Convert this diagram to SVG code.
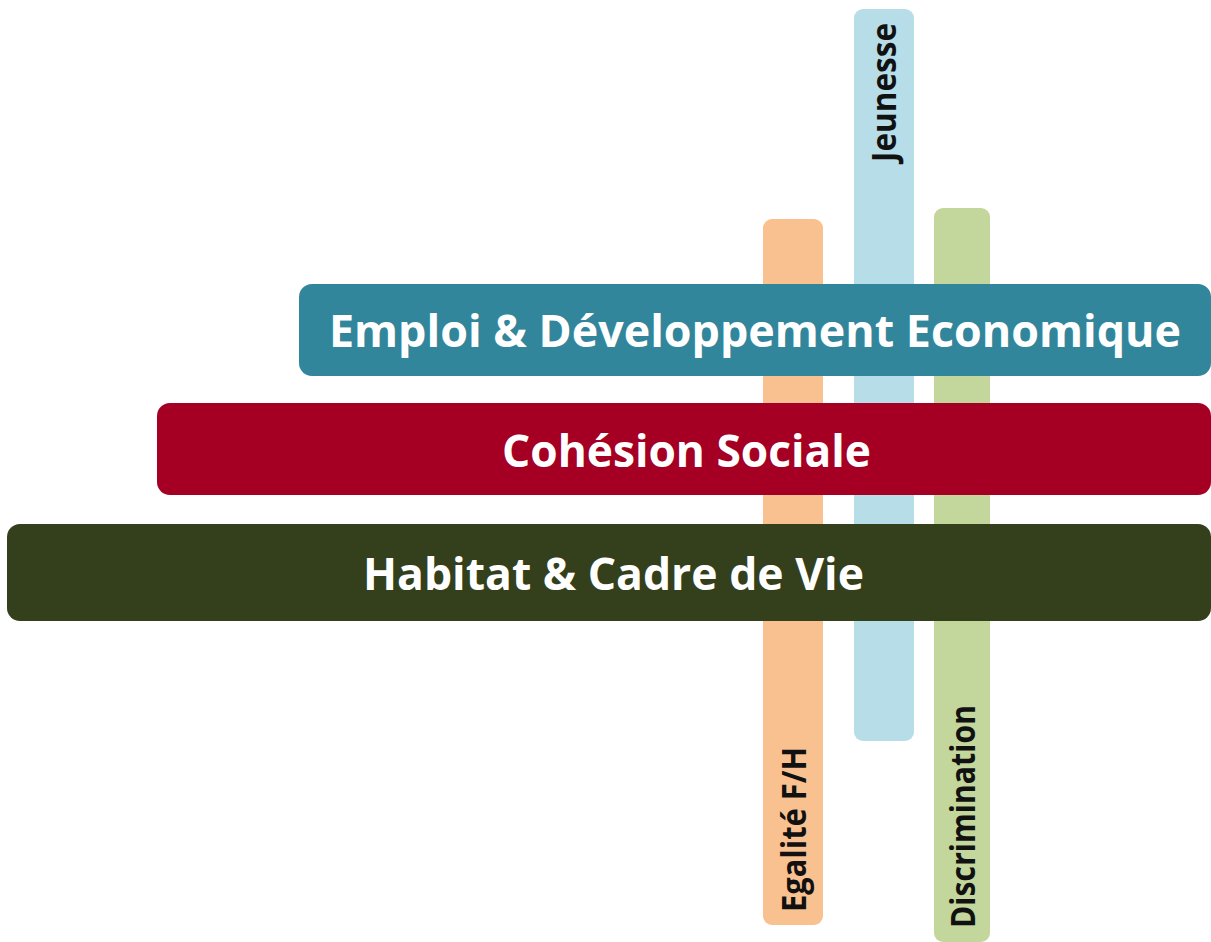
<svg xmlns="http://www.w3.org/2000/svg" width="1211" height="942" viewBox="0 0 1211 942">
<style>
.h{font-family:"Open Sans","DejaVu Sans",sans-serif;font-weight:700;font-size:45px;fill:#ffffff}
.v{font-family:"Open Sans","DejaVu Sans",sans-serif;font-weight:700;font-size:34px;fill:#111111}
</style>
<rect width="1211" height="942" fill="#ffffff"/>
<g id="egalite">
<rect x="763" y="219" width="60" height="706" rx="9" fill="#F9C090"/>
<text class="v" transform="translate(806,912) rotate(-90)" textLength="165" lengthAdjust="spacingAndGlyphs">Egalité F/H</text>
</g>
<g id="jeunesse">
<rect x="854" y="9" width="60" height="732" rx="9" fill="#B7DDE8"/>
<text class="v" transform="translate(896,162) rotate(-90)" textLength="139" lengthAdjust="spacingAndGlyphs">Jeunesse</text>
</g>
<g id="discrimination">
<rect x="934" y="208" width="56" height="734" rx="9" fill="#C3D69B"/>
<text class="v" transform="translate(975,928) rotate(-90)" textLength="223" lengthAdjust="spacingAndGlyphs">Discrimination</text>
</g>
<g id="emploi">
<rect x="299" y="284" width="912" height="92" rx="13" fill="#32869C"/>
<text class="h" x="329" y="347" textLength="852" lengthAdjust="spacingAndGlyphs">Emploi &amp; Développement Economique</text>
</g>
<g id="cohesion">
<rect x="157" y="403" width="1054" height="92" rx="13" fill="#A50024"/>
<text class="h" x="502" y="467" textLength="369" lengthAdjust="spacingAndGlyphs">Cohésion Sociale</text>
</g>
<g id="habitat">
<rect x="7" y="524" width="1204" height="97" rx="13" fill="#343F1C"/>
<text class="h" x="363" y="590" textLength="501" lengthAdjust="spacingAndGlyphs">Habitat &amp; Cadre de Vie</text>
</g>
<g id="connectors"/>
</svg>
